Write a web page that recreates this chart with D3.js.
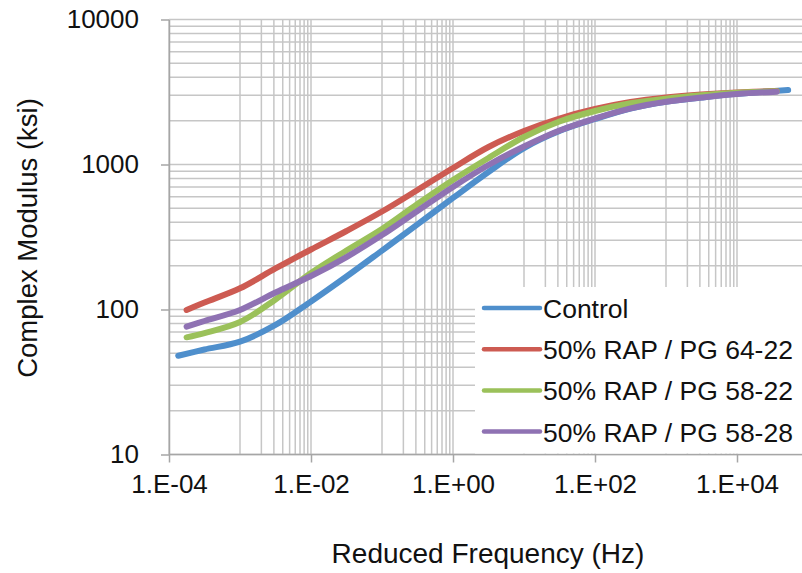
<!DOCTYPE html>
<html>
<head>
<meta charset="utf-8">
<script src="https://cdn.jsdelivr.net/npm/d3@7"></script>
<style>
  body { margin: 0; background: #fff; }
  svg { display: block; font-family: "Liberation Sans", Arial, sans-serif; }
</style>
</head>
<body>
<div id="chart"></div>
<script>
// series names + colours (legend order)
const seriesNames = ["Control", "50% RAP / PG 64-22", "50% RAP / PG 58-22", "50% RAP / PG 58-28"];
const seriesColors = ["#4f8fcc", "#cd5b52", "#9bc15a", "#8f72b3"];

// reduced frequency (Hz) and complex modulus (ksi)
const freqControl = [1.35e-4, 3.16e-4, 1e-3, 3.16e-3, 1e-2, 3.16e-2, 0.1, 0.316, 1, 3.16, 10, 31.6, 100, 316, 1000, 3162, 1e4, 52500];
const modControl = [48, 53, 60, 78.2, 113.6, 168.9, 255, 386, 588, 888, 1299, 1702, 2060, 2433, 2711, 2898, 3073, 3265];

const freqRap = [1.77e-4, 3.16e-4, 1e-3, 3.16e-3, 1e-2, 3.16e-2, 0.1, 0.316, 1, 3.16, 10, 31.6, 100, 316, 1000, 3162, 1e4, 36200];
const mod6422 = [99.2, 111.7, 140, 191.8, 259.3, 347.8, 474, 667, 946, 1320, 1702, 2076, 2414, 2698, 2898, 3039, 3138, 3213];
const mod5822 = [64.3, 68.8, 82, 117.2, 178.5, 255.2, 359, 534, 782, 1109, 1548, 1980, 2339, 2643, 2843, 3001, 3123, 3198];
const mod5828 = [76.1, 83.3, 99.2, 131, 170.2, 230, 326, 478, 700, 992, 1331, 1716, 2076, 2441, 2711, 2898, 3063, 3178];

const xTicks = [1e-4, 1e-2, 1e0, 1e2, 1e4];
const yTicks = [10, 100, 1000, 10000];

const width = 802, height = 573;

const svg = d3.select("#chart").append("svg")
  .attr("width", width)
  .attr("height", height);

// plot runs on past the right edge (picture is cropped there)
const x = d3.scaleLog().domain([1e-4, 1e6]).range([169, 879]);
const y = d3.scaleLog().domain([10, 10000]).range([454.5, 19.5]);

// gridlines: y every 1..9 per decade, x has minor lines only in odd decades
const yGrid = [];
for (let e = 1; e < 4; e++) for (let k = 1; k <= 9; k++) yGrid.push(k * Math.pow(10, e));
yGrid.push(10000);
const xGrid = [];
for (let e = -4; e < 6; e++) {
  if (e % 2 === 0) xGrid.push(Math.pow(10, e));
  else for (let k = 1; k <= 9; k++) xGrid.push(k * Math.pow(10, e));
}

const grid = svg.append("g").attr("stroke", "#c6c6c6").attr("stroke-width", 1.5);
grid.selectAll("line.h").data(yGrid).join("line")
  .attr("class", "h")
  .attr("x1", 169).attr("x2", width)
  .attr("y1", d => y(d)).attr("y2", d => y(d));
grid.selectAll("line.v").data(xGrid).join("line")
  .attr("class", "v")
  .attr("x1", d => x(d)).attr("x2", d => x(d))
  .attr("y1", y(10000)).attr("y2", y(10));

// axes
const fmtExp = d => {
  const e = Math.round(Math.log10(d));
  return "1.E" + (e < 0 ? "-" : "+") + String(Math.abs(e)).padStart(2, "0");
};

const xAxis = svg.append("g")
  .attr("transform", `translate(0,${y(10)})`)
  .call(d3.axisBottom(x).tickValues(xTicks).tickFormat(fmtExp).tickSize(8).tickSizeOuter(0).tickPadding(12));
const yAxis = svg.append("g")
  .attr("transform", `translate(${x(1e-4)},0)`)
  .call(d3.axisLeft(y).tickValues(yTicks).tickFormat(d3.format("d")).tickSize(8).tickSizeOuter(0).tickPadding(22));

[xAxis, yAxis].forEach(a => {
  a.select(".domain").attr("stroke", "#a6a6a6").attr("stroke-width", 1.5);
  a.selectAll(".tick line").attr("stroke", "#a6a6a6").attr("stroke-width", 1.5);
  a.selectAll("text").attr("fill", "#111").style("font-size", "26px")
    .style("font-family", "'Liberation Sans', Arial, sans-serif");
});
// x axis line spans the whole width
xAxis.select(".domain").attr("d", `M169,0H${width}`);

// curves
const series = [
  { name: seriesNames[0], f: freqControl, v: modControl },
  { name: seriesNames[1], f: freqRap, v: mod6422 },
  { name: seriesNames[2], f: freqRap, v: mod5822 },
  { name: seriesNames[3], f: freqRap, v: mod5828 }
];

const line = d3.line()
  .x(d => x(d[0]))
  .y(d => y(d[1]))
  .curve(d3.curveCatmullRom.alpha(0.5));

svg.append("g").selectAll("path").data(series).join("path")
  .attr("fill", "none")
  .attr("stroke", (d, i) => seriesColors[i])
  .attr("stroke-width", 6)
  .attr("stroke-linecap", "round")
  .attr("stroke-linejoin", "round")
  .attr("d", d => line(d.f.map((f, i) => [f, d.v[i]])));

// legend (white box over the grid)
const legend = svg.append("g");
legend.append("rect")
  .attr("x", 475).attr("y", 287)
  .attr("width", width - 475).attr("height", y(10) - 287 - 1)
  .attr("fill", "#fff");
const rows = legend.selectAll("g.row").data(seriesNames).join("g")
  .attr("class", "row")
  .attr("transform", (d, i) => `translate(484,${308 + i * 41.2})`);
rows.append("line")
  .attr("x1", 0).attr("x2", 56)
  .attr("stroke", (d, i) => seriesColors[i])
  .attr("stroke-width", 4.5)
  .attr("stroke-linecap", "round");
rows.append("text")
  .attr("x", 59).attr("y", 10)
  .attr("fill", "#111")
  .style("font-size", "26.5px")
  .text(d => d);

// axis titles
svg.append("text")
  .attr("x", 488).attr("y", 563)
  .attr("text-anchor", "middle")
  .attr("fill", "#111")
  .style("font-size", "28px")
  .text("Reduced Frequency (Hz)");
svg.append("text")
  .attr("transform", "translate(37,238) rotate(-90)")
  .attr("text-anchor", "middle")
  .attr("fill", "#111")
  .style("font-size", "27.5px")
  .text("Complex Modulus (ksi)");
</script>
</body>
</html>
